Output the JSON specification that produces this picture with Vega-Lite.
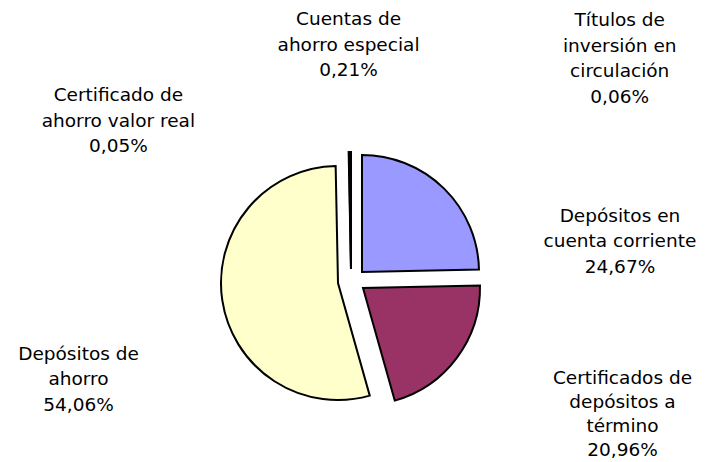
{
  "$schema": "https://vega.github.io/schema/vega-lite/v6.json",
  "width": 700,
  "height": 366,
  "autosize": "none",
  "padding": {"top": 96, "left": 0, "right": 6, "bottom": 0},
  "background": "white",
  "config": {"view": {"stroke": null}, "text": {"font": "DejaVu Sans", "fontSize": 18.5, "lineHeight": 25.5, "align": "center", "baseline": "top", "lineBreak": "\n", "color": "black"}},
  "data": {
    "values": [
      {"rubro": "Depósitos en cuenta corriente", "etiqueta": "Depósitos en\ncuenta corriente\n24,67%", "pct": 24.67},
      {"rubro": "Certificados de depósitos a término", "etiqueta": "Certificados de\ndepósitos a\ntérmino\n20,96%", "pct": 20.96},
      {"rubro": "Depósitos de ahorro", "etiqueta": "Depósitos de\nahorro\n54,06%", "pct": 54.06},
      {"rubro": "Certificado de ahorro valor real", "etiqueta": "Certificado de\nahorro valor real\n0,05%", "pct": 0.05},
      {"rubro": "Cuentas de ahorro especial", "etiqueta": "Cuentas de\nahorro especial\n0,21%", "pct": 0.21},
      {"rubro": "Títulos de inversión en circulación", "etiqueta": "Títulos de\ninversión en\ncirculación\n0,06%", "pct": 0.06}
    ]
  },
  "transform": [
    {"stack": "pct", "groupby": [], "as": ["v0", "v1"]},
    {"calculate": "(datum.v0 + datum.v1) / 2", "as": "mid"}
  ],
  "layer": [
    {
      "transform": [{"filter": "datum.rubro === 'Depósitos en cuenta corriente'"}],
      "mark": {"type": "arc", "radius": 117, "stroke": "black", "strokeWidth": 2, "strokeJoin": "miter", "xOffset": 12, "yOffset": -7},
      "encoding": {
        "theta": {"field": "v0", "type": "quantitative", "scale": {"domain": [0, 100.01]}},
        "theta2": {"field": "v1"},
        "color": {"field": "rubro", "type": "nominal", "legend": null,
          "scale": {"domain": ["Depósitos en cuenta corriente", "Certificados de depósitos a término", "Depósitos de ahorro", "Certificado de ahorro valor real", "Cuentas de ahorro especial", "Títulos de inversión en circulación"],
                    "range": ["#9999FF", "#993366", "#FFFFCC", "#CCFFFF", "#660066", "#FF8080"]}}
      }
    },
    {
      "transform": [{"filter": "datum.rubro === 'Certificados de depósitos a término'"}],
      "mark": {"type": "arc", "radius": 117, "stroke": "black", "strokeWidth": 2, "strokeJoin": "miter", "xOffset": 13, "yOffset": 9},
      "encoding": {
        "theta": {"field": "v0", "type": "quantitative"},
        "theta2": {"field": "v1"},
        "color": {"field": "rubro", "type": "nominal", "legend": null}
      }
    },
    {
      "transform": [{"filter": "datum.rubro === 'Depósitos de ahorro'"}],
      "mark": {"type": "arc", "radius": 117, "stroke": "black", "strokeWidth": 2, "strokeJoin": "miter", "xOffset": -12, "yOffset": 4},
      "encoding": {
        "theta": {"field": "v0", "type": "quantitative"},
        "theta2": {"field": "v1"},
        "color": {"field": "rubro", "type": "nominal", "legend": null}
      }
    },
    {
      "transform": [{"filter": "datum.pct < 1"}],
      "mark": {"type": "arc", "radius": 117, "stroke": "black", "strokeWidth": 2, "strokeJoin": "miter", "xOffset": 1, "yOffset": -10},
      "encoding": {
        "theta": {"field": "v0", "type": "quantitative"},
        "theta2": {"field": "v1"},
        "color": {"field": "rubro", "type": "nominal", "legend": null}
      }
    },
    {
      "transform": [{"filter": "datum.rubro === 'Depósitos en cuenta corriente'"}],
      "mark": {"type": "text", "radius": 140, "dx": 172, "dy": 28},
      "encoding": {"theta": {"field": "mid", "type": "quantitative"}, "text": {"field": "etiqueta"}}
    },
    {
      "transform": [{"filter": "datum.rubro === 'Certificados de depósitos a término'"}],
      "mark": {"type": "text", "radius": 140, "dx": 160, "dy": 7, "lineHeight": 24},
      "encoding": {"theta": {"field": "mid", "type": "quantitative"}, "text": {"field": "etiqueta"}}
    },
    {
      "transform": [{"filter": "datum.rubro === 'Depósitos de ahorro'"}],
      "mark": {"type": "text", "radius": 140, "dx": -133, "dy": 45},
      "encoding": {"theta": {"field": "mid", "type": "quantitative"}, "text": {"field": "etiqueta"}}
    },
    {
      "transform": [{"filter": "datum.rubro === 'Certificado de ahorro valor real'"}],
      "mark": {"type": "text", "radius": 140, "dx": -229, "dy": -53},
      "encoding": {"theta": {"field": "mid", "type": "quantitative"}, "text": {"field": "etiqueta"}}
    },
    {
      "transform": [{"filter": "datum.rubro === 'Cuentas de ahorro especial'"}],
      "mark": {"type": "text", "radius": 140, "dx": 0, "dy": -129},
      "encoding": {"theta": {"field": "mid", "type": "quantitative"}, "text": {"field": "etiqueta"}}
    },
    {
      "transform": [{"filter": "datum.rubro === 'Títulos de inversión en circulación'"}],
      "mark": {"type": "text", "radius": 140, "dx": 270, "dy": -128},
      "encoding": {"theta": {"field": "mid", "type": "quantitative"}, "text": {"field": "etiqueta"}}
    }
  ]
}
